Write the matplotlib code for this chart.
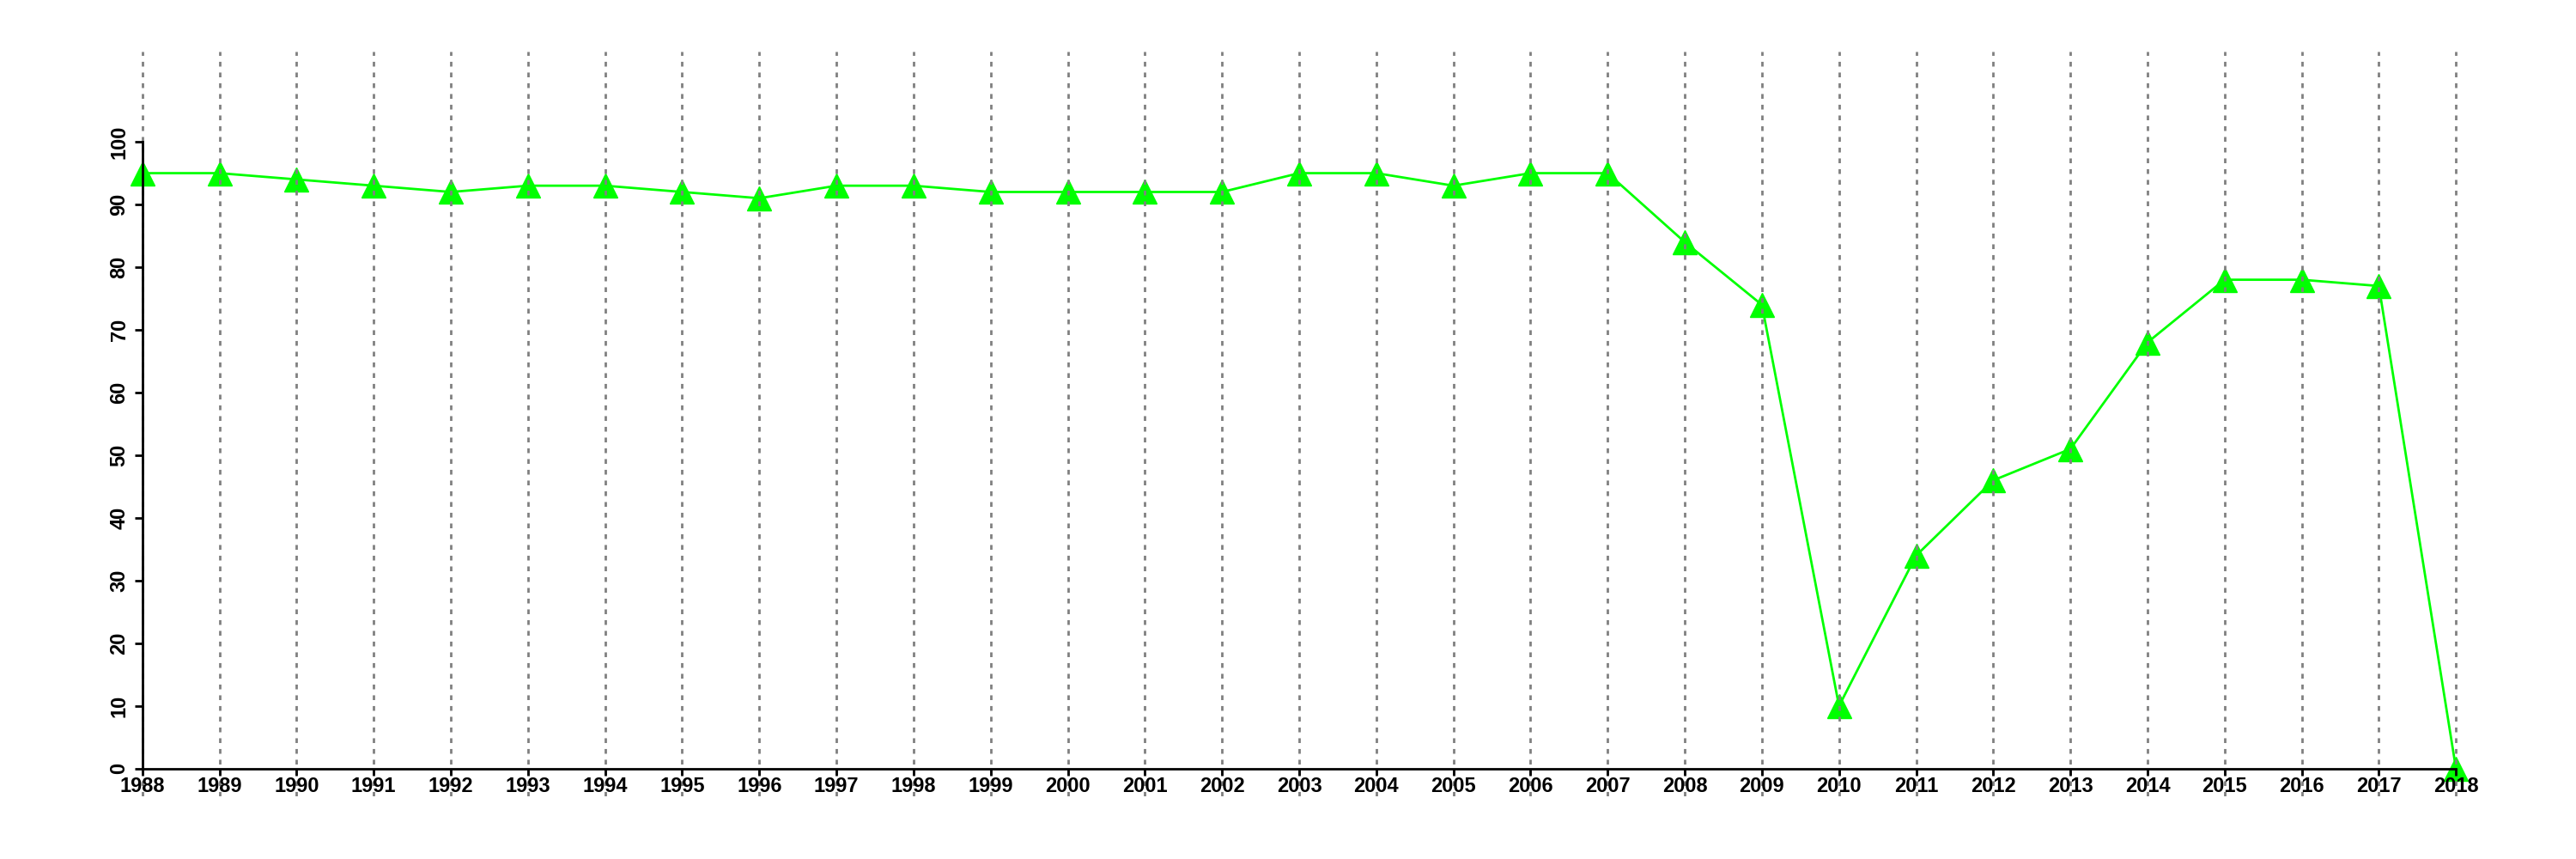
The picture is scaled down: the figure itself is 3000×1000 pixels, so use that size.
import matplotlib
matplotlib.use('Agg')
import matplotlib.pyplot as plt

years = list(range(1988, 2019))
values = [95, 95, 94, 93, 92, 93, 93, 92, 91, 93, 93, 92, 92, 92, 92,
          95, 95, 93, 95, 95, 84, 74, 10, 34, 46, 51, 68, 78, 78, 77, 0]
yticks = list(range(0, 101, 10))

plt.rcParams['font.family'] = ['Liberation Sans', 'DejaVu Sans']

fig = plt.figure(figsize=(30, 10), dpi=100)
# plot region: 1988 at ~166px, 2018 at ~2860px
ax = fig.add_axes([58 / 3000, 0.073, 2910 / 3000, 0.867])

ax.plot(years, values, color='#00ff00', linewidth=2, marker='^', markersize=20,
        markerfacecolor='#00ff00', markeredgecolor='#00ff00', zorder=2, clip_on=False)

# dotted vertical grid at each year, drawn over the series
ax.set_axisbelow(False)
ax.grid(axis='x', color='#808080', linestyle=(0, (2, 2.5)), linewidth=2)

ax.set_xlim(1986.8, 2019.2)
ax.set_ylim(-4.4, 114.4)
ax.set_xticks(years)
ax.set_xticklabels([str(y) for y in years])
ax.set_yticks(yticks)
ax.set_yticklabels([str(t) for t in yticks])

for s in ['top', 'right']:
    ax.spines[s].set_visible(False)
ax.spines['left'].set_position(('data', 1988))
ax.spines['left'].set_bounds(0, 100)
ax.spines['bottom'].set_position(('data', 0))
ax.spines['bottom'].set_bounds(1988, 2018)
for s in ['left', 'bottom']:
    ax.spines[s].set_linewidth(2)
    ax.spines[s].set_zorder(4)

ax.tick_params(axis='y', length=6.5, width=2, pad=4.5, labelsize=17, labelrotation=90)
ax.tick_params(axis='x', length=6, width=2, pad=0.5, labelsize=17)
for lbl in ax.get_yticklabels():
    lbl.set_verticalalignment('center')
for lbl in ax.get_xticklabels() + ax.get_yticklabels():
    lbl.set_fontweight('bold')

fig.savefig('out.png', dpi=100)
